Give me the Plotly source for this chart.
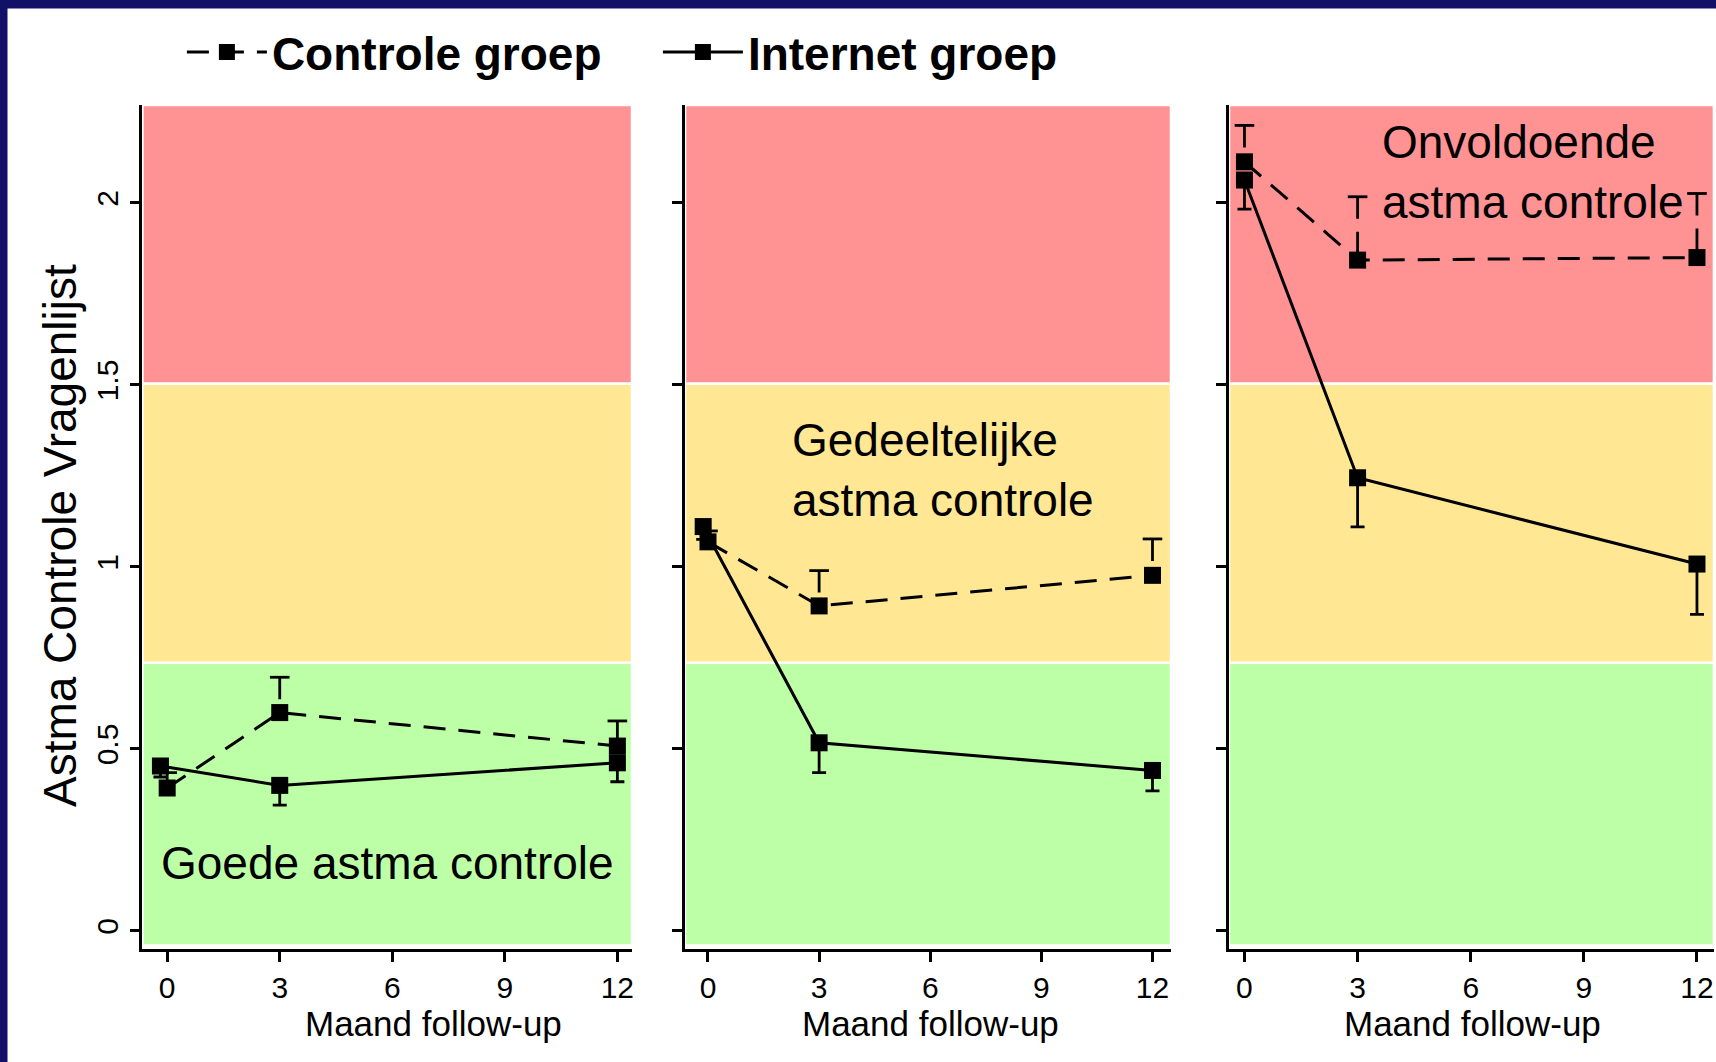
"""
Astma controle per groep, drie panelen naar controleniveau bij start.
"""

import plotly.graph_objects as go
from plotly.subplots import make_subplots

FONT = "Liberation Sans, Arial, sans-serif"
NAVY = "#121168"

# meetmomenten; de internetgroep staat op t=0 iets naar links verschoven
month_ticks = [0, 3, 6, 9, 12]
controle_x = [[0, 3, 12], [0, 3, 12], [0, 3, 12]]
internet_x = [[-0.18, 3, 12], [-0.13, 3, 12], [0, 3, 12]]

# gemiddelde ACQ-score en eenzijdige foutbalk per panel
controle_y = [[0.393, 0.600, 0.508], [1.069, 0.893, 0.977], [2.113, 1.843, 1.850]]
controle_err = [[0.042, 0.097, 0.069], [0.030, 0.097, 0.100], [0.100, 0.174, 0.176]]
internet_y = [[0.453, 0.400, 0.462], [1.111, 0.517, 0.441], [2.063, 1.245, 1.008]]
internet_err = [[0.030, 0.054, 0.052], [0.035, 0.082, 0.056], [0.080, 0.135, 0.138]]

# achtergrondzones: goed / gedeeltelijk / onvoldoende
band_edges = [-0.04, 0.737, 1.504, 2.269]
band_colors = ["#bdffa6", "#ffe794", "#ff9292"]

y_ticks = [0, 0.5, 1, 1.5, 2]
y_range = [-0.0495, 2.269]
x_ranges = [[-0.66, 12.39], [-0.62, 12.5], [-0.41, 12.45]]
x_domains = [[0.0830, 0.3683], [0.3992, 0.6824], [0.7162, 0.9988]]

zone_labels = ["Goede astma controle", "Gedeeltelijke<br>astma controle",
               "Onvoldoende<br>astma controle"]
zone_pos = [(5.885, 0.187, "center"), (2.21, 1.266, "left"), (3.59, 2.085, "left")]
x_title_pos = [0.2529, 0.5420, 0.8582]

DASH = "22px,13px"

fig = make_subplots(rows=1, cols=3)

for i in range(3):
    col = i + 1
    n = "" if i == 0 else str(col)

    for lo, hi, color in zip(band_edges[:-1], band_edges[1:], band_colors):
        fig.add_shape(type="rect", xref=f"x{n} domain", yref=f"y{n}",
                      x0=0, x1=1, y0=lo, y1=hi, fillcolor=color,
                      line=dict(color="white", width=2.5), layer="below")

    # controle: gestreepte foutbalk omhoog
    ex, ey, caps = [], [], []
    for x, y, e in zip(controle_x[i], controle_y[i], controle_err[i]):
        ex += [x, x, None]
        ey += [y + e, y, None]
        caps.append(y + e)
    fig.add_trace(go.Scatter(
        x=ex, y=ey, mode="lines", showlegend=False, hoverinfo="skip",
        line=dict(color="black", width=2.8, dash=DASH),
    ), row=1, col=col)
    fig.add_trace(go.Scatter(
        x=controle_x[i], y=caps, mode="markers", showlegend=False, hoverinfo="skip",
        marker=dict(symbol="line-ew", size=14, line=dict(color="black", width=2.8)),
    ), row=1, col=col)

    fig.add_trace(go.Scatter(
        x=controle_x[i], y=controle_y[i], mode="lines+markers",
        name="Controle groep", legendgroup="c", showlegend=(i == 0),
        line=dict(color="black", width=3, dash=DASH),
        marker=dict(symbol="square", size=17, color="black"),
    ), row=1, col=col)

    fig.add_trace(go.Scatter(
        x=internet_x[i], y=internet_y[i], mode="lines+markers",
        name="Internet groep", legendgroup="i", showlegend=(i == 0),
        line=dict(color="black", width=3),
        marker=dict(symbol="square", size=17, color="black"),
        error_y=dict(type="data", symmetric=False, array=[0] * 3,
                     arrayminus=internet_err[i], color="black",
                     thickness=2.8, width=7),
    ), row=1, col=col)

    tx, ty, anchor = zone_pos[i]
    fig.add_annotation(x=tx, y=ty, xref=f"x{n}", yref=f"y{n}", text=zone_labels[i],
                       showarrow=False, xanchor=anchor, yanchor="middle", align="left",
                       font=dict(family=FONT, size=46, color="black"))

    fig.add_annotation(x=x_title_pos[i], y=0.0358, xref="paper", yref="paper",
                       text="Maand follow-up", showarrow=False,
                       xanchor="center", yanchor="middle",
                       font=dict(family=FONT, size=35, color="black"))

    fig.update_xaxes(domain=x_domains[i], range=x_ranges[i], tickvals=month_ticks,
                     ticks="outside", ticklen=10, tickwidth=2.5, tickcolor="black",
                     showline=True, linewidth=2.5, linecolor="black",
                     showgrid=False, zeroline=False, automargin=False,
                     tickfont=dict(family=FONT, size=30, color="black"),
                     row=1, col=col)
    fig.update_yaxes(domain=[0.1064, 0.9011], range=y_range, tickvals=y_ticks,
                     showticklabels=(i == 0), tickangle=-90,
                     ticks="outside", ticklen=10, tickwidth=2.5, tickcolor="black",
                     showline=True, linewidth=2.5, linecolor="black",
                     showgrid=False, zeroline=False, automargin=False,
                     tickfont=dict(family=FONT, size=30, color="black"),
                     row=1, col=col)

fig.add_annotation(x=0.035, y=0.4953, xref="paper", yref="paper",
                   text="Astma Controle Vragenlijst", textangle=-90, showarrow=False,
                   xanchor="center", yanchor="middle",
                   font=dict(family=FONT, size=46, color="black"))

# donkerblauwe rand boven en links
fig.add_shape(type="rect", xref="paper", yref="paper", x0=0, x1=7.5 / 1716,
              y0=0, y1=1, fillcolor=NAVY, line=dict(width=0))
fig.add_shape(type="rect", xref="paper", yref="paper", x0=0, x1=1,
              y0=1 - 8.5 / 1062, y1=1, fillcolor=NAVY, line=dict(width=0))

fig.update_layout(
    width=1716, height=1062,
    margin=dict(l=0, r=0, t=0, b=0),
    paper_bgcolor="white", plot_bgcolor="white",
    font=dict(family=FONT, color="black"),
    legend=dict(orientation="h", x=0.106, xanchor="left", y=0.951, yanchor="middle",
                itemwidth=80, entrywidth=381, bgcolor="rgba(0,0,0,0)",
                font=dict(family=FONT, size=46, color="black", weight="bold")),
)

fig.write_html("out.html", config={"displayModeBar": False},
               post_script="document.body.style.margin='0';")
